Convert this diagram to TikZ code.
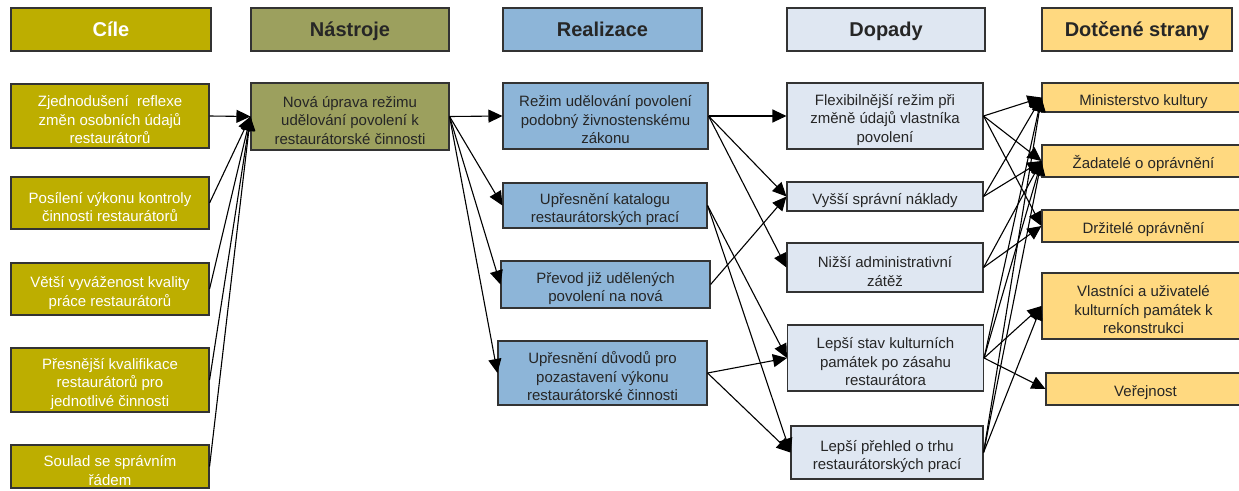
\documentclass[tikz,border=0pt]{standalone}
\usepackage{fontspec}
\setmainfont{Liberation Sans}
\usetikzlibrary{arrows.meta}

\definecolor{cilecol}{RGB}{189,174,0}
\definecolor{nastrcol}{RGB}{156,160,94}
\definecolor{realcol}{RGB}{141,181,216}
\definecolor{dopcol}{RGB}{223,231,242}
\definecolor{stranycol}{RGB}{255,217,128}

% strut that pushes the first line down a little
\newcommand{\tstrut}{\rule{0pt}{19pt}}

\tikzset{
  box/.style={draw=black!80, line width=1.1pt, align=center, inner xsep=2pt, inner ysep=0.5pt,
    font=\fontsize{15}{18.5}\selectfont, text=black!85},
  head/.style={draw=black!80, line width=1.1pt, minimum height=43pt,
    text height=14.5pt, text depth=0pt, font=\fontsize{20}{24}\selectfont\bfseries},
  goal/.style={box, fill=cilecol, text=white, minimum width=198pt},
  tool/.style={box, fill=nastrcol, minimum width=198pt},
  impl/.style={box, fill=realcol},
  impact/.style={box, fill=dopcol, minimum width=196pt},
  party/.style={box, fill=stranycol, minimum width=203pt},
  conn/.style={-{Triangle[length=14pt,width=13pt]}, line width=1.1pt},
}

\begin{document}
\begin{tikzpicture}[x=1pt,y=-1pt]
   \useasboundingbox (0,0) rectangle (1239,490);
   \clip (0,0) rectangle (1239,490);
   % column headers
   \node[head, fill=cilecol, text=white, minimum width=200pt] (hcile) at (111,29.5) {Cíle};
   \node[head, fill=nastrcol, text=black!85, minimum width=198pt] (hnastr) at (350,29.5) {Nástroje};
   \node[head, fill=realcol, text=black!85, minimum width=199pt] (hreal) at (602.5,29.5) {Realizace};
   \node[head, fill=dopcol, text=black!85, minimum width=198pt] (hdop) at (886,29.5) {Dopady};
   \node[head, fill=stranycol, text=black!85, minimum width=190pt] (hstrany) at (1137,29.5) {Dotčené strany};
   % goals
   \node[goal, minimum height=64pt] (c1) at (110,116) {\tstrut Zjednodušení\ \ reflexe\\změn osobních údajů\\restaurátorů};
   \node[goal, minimum height=52pt] (c2) at (110,203) {\tstrut Posílení výkonu kontroly\\činnosti restaurátorů};
   \node[goal, minimum height=52pt] (c3) at (110,289) {\tstrut Větší vyváženost kvality\\práce restaurátorů};
   \node[goal, minimum height=64pt] (c4) at (110,380) {\tstrut Přesnější kvalifikace\\restaurátorů pro\\jednotlivé činnosti};
   \node[goal, minimum height=43pt] (c5) at (110,466.5) {\tstrut Soulad se správním\\řádem};
   % tool
   \node[tool, minimum height=67pt] (n1) at (350,116.5) {\tstrut Nová úprava režimu\\udělování povolení k\\restaurátorské činnosti};
   % realisation
   \node[impl, minimum width=205pt, minimum height=66pt] (r1) at (605.5,116) {\tstrut Režim udělování povolení\\podobný živnostenskému\\zákonu};
   \node[impl, minimum width=204pt, minimum height=45pt] (r2) at (605,205.5) {\tstrut Upřesnění katalogu\\restaurátorských prací};
   \node[impl, minimum width=209pt, minimum height=47pt] (r3) at (605.5,284.5) {\tstrut Převod již udělených\\povolení na nová};
   \node[impl, minimum width=209pt, minimum height=64pt] (r4) at (602.5,373) {\tstrut Upřesnění důvodů pro\\pozastavení výkonu\\restaurátorské činnosti};
   % impacts
   \node[impact, minimum height=66pt] (d1) at (885,116) {\tstrut Flexibilnější režim při\\změně údajů vlastníka\\povolení};
   \node[impact, minimum height=29pt] (d2) at (885,196.5) {\tstrut Vyšší správní náklady};
   \node[impact, minimum height=49pt] (d3) at (885,267.5) {\tstrut Nižší administrativní\\zátěž};
   \node[impact, minimum height=66pt] (d4) at (885.5,358) {\tstrut Lepší stav kulturních\\památek po zásahu\\restaurátora};
   \node[impact, minimum width=192pt, minimum height=53pt] (d5) at (887,452.5) {\tstrut Lepší přehled o trhu\\restaurátorských prací};
   % affected parties
   \node[party, minimum height=29pt] (s1) at (1143.5,97.5) {\tstrut Ministerstvo kultury};
   \node[party, minimum height=32pt] (s2) at (1143.5,161) {\tstrut Žadatelé o oprávnění};
   \node[party, minimum height=32pt] (s3) at (1143.5,226) {\tstrut Držitelé oprávnění};
   \node[party, minimum height=66pt] (s4) at (1143.5,306) {\tstrut Vlastníci a uživatelé\\kulturních památek k\\rekonstrukci};
   \node[party, minimum width=199pt, minimum height=32pt] (s5) at (1145.5,389) {\tstrut Veřejnost};
   % goals -> tool
   \foreach \g in {c1,c2,c3,c4,c5}
      \draw[conn] (\g.east) -- (n1.west);
   % tool -> realisation
   \foreach \r in {r1,r2,r3,r4}
      \draw[conn] (n1.east) -- (\r.west);
   % realisation -> impacts
   \draw[conn] (r1.east) -- (d1.west);
   \draw[conn] (r1.east) -- (d2.west);
   \draw[conn] (r1.east) -- (d3.west);
   \draw[conn] (r2.east) -- (d4.west);
   \draw[conn] (r2.east) -- (d5.west);
   \draw[conn] (r3.east) -- (d2.west);
   \draw[conn] (r4.east) -- (d4.west);
   \draw[conn] (r4.east) -- (d5.west);
   % impacts -> affected parties
   \draw[conn] (d1.east) -- (s1.west);
   \draw[conn] (d1.east) -- (s2.west);
   \draw[conn] (d1.east) -- (s3.west);
   \draw[conn] (d2.east) -- (s1.west);
   \draw[conn] (d2.east) -- (s2.west);
   \draw[conn] (d3.east) -- (s2.west);
   \draw[conn] (d3.east) -- (s3.west);
   \draw[conn] (d4.east) -- (s1.west);
   \draw[conn] (d4.east) -- (s2.west);
   \draw[conn] (d4.east) -- (s4.west);
   \draw[conn] (d4.east) -- (s5.west);
   \draw[conn] (d5.east) -- (s1.west);
   \draw[conn] (d5.east) -- (s2.west);
   \draw[conn] (d5.east) -- (s4.west);
\end{tikzpicture}
\end{document}
